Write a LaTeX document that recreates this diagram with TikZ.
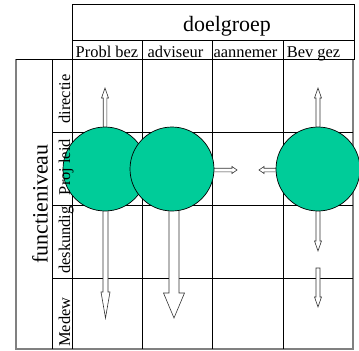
\documentclass[tikz,border=0pt]{standalone}
\usepackage{fontspec}
\setmainfont{Liberation Serif}
\definecolor{discgreen}{RGB}{0,204,153}
\definecolor{framegray}{RGB}{128,128,128}
\tikzset{
  gridline/.style={draw=black, line width=0.9bp},
  frameline/.style={draw=framegray, line width=1.3bp},
  disc/.style={circle, draw=black, line width=0.7bp, fill=discgreen, minimum size=84bp, inner sep=0pt},
  blockarrow/.style={draw=black!80, fill=white, line width=0.6bp, line join=miter},
  bigtitle/.style={font=\fontsize{22}{24}\selectfont, inner sep=0pt, anchor=base},
  celltext/.style={font=\fontsize{16.5}{18}\selectfont, inner sep=0pt, anchor=base},
}
% vertical block arrow: x, start y, head base y, tip y, shaft half width, head half width
\newcommand{\vblockarrow}[6]{%
  \draw[blockarrow] ({#1-#5},#2) -- ({#1-#5},#3) -- ({#1-#6},#3) -- (#1,#4)
    -- ({#1+#6},#3) -- ({#1+#5},#3) -- ({#1+#5},#2) -- cycle;}
% horizontal block arrow: y, start x, head base x, tip x, shaft half width, head half width
\newcommand{\hblockarrow}[6]{%
  \draw[blockarrow] (#2,{#1-#5}) -- (#3,{#1-#5}) -- (#3,{#1-#6}) -- (#4,#1)
    -- (#3,{#1+#6}) -- (#3,{#1+#5}) -- (#2,{#1+#5}) -- cycle;}
\begin{document}
\begin{tikzpicture}[x=1bp, y=-1bp]
\useasboundingbox (0,0) rectangle (359,351);

% outer frame of the body, drawn in grey
\draw[frameline] (16,59) -- (16,349) -- (353,349) -- (353,59);

% header box and column separators
\draw[gridline] (72,4) rectangle (354,59);
\draw[gridline] (72,40) -- (354,40);
\draw[gridline] (72,59) -- (72,349);
\foreach \cx in {142,212,283} \draw[gridline] (\cx,40) -- (\cx,349);

% row separators
\draw[gridline] (16,59) -- (72,59);
\draw[gridline] (52,59) -- (52,349);
\foreach \ry in {132,205,278} \draw[gridline] (52,\ry) -- (353,\ry);

% block arrows
\vblockarrow{105}{169}{98}{88}{1.8}{3.5}
\vblockarrow{105.5}{169}{292}{318}{2.5}{4.5}
\vblockarrow{174}{169}{293}{318}{5}{10.5}
\hblockarrow{170}{172}{232}{237}{1.8}{3.5}
\hblockarrow{170}{318}{264}{259}{1.8}{3.5}
\vblockarrow{318}{169}{98}{88}{2}{3.5}
\vblockarrow{318}{169}{241}{251}{2}{3.5}
\vblockarrow{318}{268}{297}{307}{2}{3.5}

% discs
\node[disc] (probl) at (105,169) {};
\node[disc] (advis) at (172,169) {};
\node[disc] (bevgez) at (318,169) {};

% titles
\node[bigtitle] (doel) at (227,31) {doelgroep};
\node[bigtitle, rotate=90] (func) at (47.5,204) {functieniveau};

% column headings
\node[celltext] (hprobl) at (107,57.5) {Probl bez};
\node[celltext] (hadvis) at (175.5,57.5) {adviseur};
\node[celltext] (hannem) at (245.5,57.5) {aannemer};
\node[celltext] (hbev) at (313.5,57.5) {Bev gez};

% row headings
\node[celltext, rotate=90] (rdir) at (70,99) {directie};
\node[celltext, rotate=90] (rproj) at (70,167) {Proj leid};
\node[celltext, rotate=90] (rdesk) at (70,240) {deskundig};
\node[celltext, rotate=90] (rmed) at (70,322) {Medew};
\end{tikzpicture}
\end{document}
